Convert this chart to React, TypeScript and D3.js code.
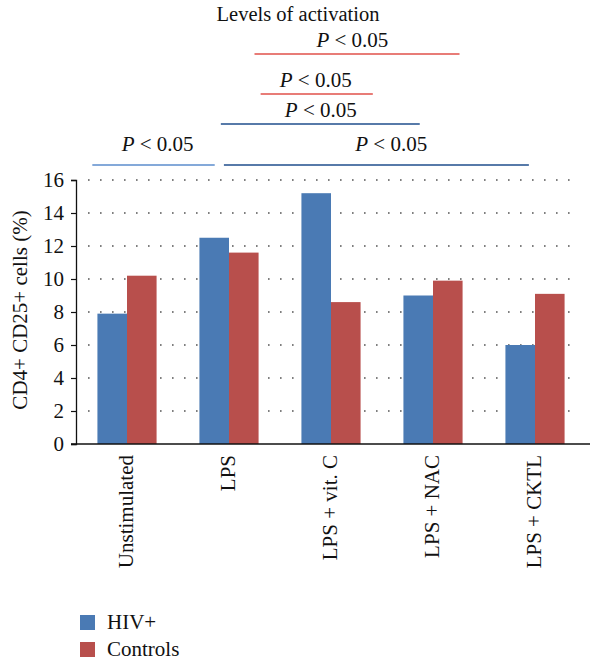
import React, { useEffect, useRef } from 'react';
import * as d3 from 'd3';

const categories = ['Unstimulated', 'LPS', 'LPS + vit. C', 'LPS + NAC', 'LPS + CKTL'];
const seriesNames = ['HIV+', 'Controls'];
const hivValues = [7.9, 12.5, 15.2, 9.0, 6.0];
const controlValues = [10.2, 11.6, 8.6, 9.9, 9.1];
const yTicks = [0, 2, 4, 6, 8, 10, 12, 14, 16];

// significance brackets, in category-index units (0 = first category centre)
const sigFrom = [1.25, 1.31, 0.92, -0.34, 0.95];
const sigTo = [3.26, 2.41, 2.87, 0.86, 3.94];
const sigLabelAt = [2.21, 1.85, 1.90, 0.30, 2.59];
const sigRow = [0, 1, 2, 3, 3];
const sigColor = ['#e0504a', '#e0504a', '#1f4e8c', '#5b8ccc', '#1f4e8c'];

const W = 597;
const H = 661;
const font = '"Liberation Serif", "DejaVu Serif", serif';
const fs = 21;

export default function App() {
  const ref = useRef<SVGSVGElement>(null);

  useEffect(() => {
    if (!ref.current) return;
    const svg = d3.select(ref.current);
    svg.selectAll('*').remove();

    const left = 76, right = 586, top = 180, bottom = 444;

    const x = d3.scaleBand().domain(categories).range([left, right]).paddingInner(0.42).paddingOuter(0.21);
    const xs = d3.scaleBand().domain(seriesNames).range([0, x.bandwidth()]);
    const y = d3.scaleLinear().domain([0, 16]).range([bottom, top]);
    const idx = d3.scaleLinear().domain([0, 1])
      .range([x(categories[0])! + x.bandwidth() / 2, x(categories[1])! + x.bandwidth() / 2]);
    const colors = d3.scaleOrdinal<string, string>().domain(seriesNames).range(['#4a7ab4', '#b84f4c']);

    // title
    svg.append('text').attr('x', 298).attr('y', 21).attr('text-anchor', 'middle')
      .attr('font-family', font).attr('font-size', 20.5).attr('fill', '#111').text('Levels of activation');

    // gridlines
    svg.append('g').selectAll('line').data(yTicks.filter(t => t > 0)).join('line')
      .attr('x1', 88).attr('x2', 572)
      .attr('y1', d => y(d)).attr('y2', d => y(d))
      .attr('stroke', '#555').attr('stroke-width', 1.6)
      .attr('stroke-dasharray', '1.6 10.4');

    // bars
    const data = categories.map((c, i) => ({ c, vals: [hivValues[i], controlValues[i]] }));
    const g = svg.append('g');
    data.forEach(d => {
      d.vals.forEach((v, j) => {
        g.append('rect')
          .attr('x', x(d.c)! + xs(seriesNames[j])!)
          .attr('width', xs.bandwidth())
          .attr('y', y(v))
          .attr('height', y(0) - y(v))
          .attr('fill', colors(seriesNames[j]));
      });
    });

    // y axis
    const yAxis = svg.append('g').attr('transform', `translate(${left},0)`)
      .call(d3.axisLeft(y).tickValues(yTicks).tickSize(5).tickPadding(7));
    yAxis.select('.domain').attr('stroke', '#111').attr('stroke-width', 1.3);
    yAxis.selectAll('.tick line').attr('stroke', '#111').attr('stroke-width', 1.2);
    yAxis.selectAll('.tick text').attr('font-family', font).attr('font-size', fs).attr('fill', '#111');

    // x axis line
    svg.append('line').attr('x1', left - 5).attr('x2', 590).attr('y1', bottom).attr('y2', bottom)
      .attr('stroke', '#111').attr('stroke-width', 1.3);

    // x labels
    svg.append('g').selectAll('text').data(categories).join('text')
      .attr('transform', d => `translate(${x(d)! + x.bandwidth() / 2 + 6},455) rotate(-90)`)
      .attr('text-anchor', 'end')
      .attr('font-family', font).attr('font-size', fs).attr('fill', '#111')
      .text(d => d);

    // y label
    svg.append('text').attr('transform', `translate(27,${(top + bottom) / 2 - 2}) rotate(-90)`)
      .attr('text-anchor', 'middle').attr('font-family', font).attr('font-size', fs).attr('fill', '#111')
      .text('CD4+ CD25+ cells (%)');

    // significance brackets
    const rowLineY = [54, 94, 124, 165];
    const rowTextY = [47, 87, 117, 151];
    sigFrom.forEach((f, i) => {
      svg.append('line')
        .attr('x1', idx(f)).attr('x2', idx(sigTo[i]))
        .attr('y1', rowLineY[sigRow[i]]).attr('y2', rowLineY[sigRow[i]])
        .attr('stroke', sigColor[i]).attr('stroke-width', 1.3);
      const t = svg.append('text').attr('x', idx(sigLabelAt[i])).attr('y', rowTextY[sigRow[i]])
        .attr('text-anchor', 'middle').attr('font-family', font).attr('font-size', fs).attr('fill', '#111');
      t.append('tspan').attr('font-style', 'italic').text('P');
      t.append('tspan').text(' < 0.05');
    });

    // legend
    const lg = svg.append('g');
    seriesNames.forEach((s, i) => {
      lg.append('rect').attr('x', 80).attr('y', 615 + i * 27).attr('width', 15).attr('height', 15)
        .attr('fill', colors(s));
      lg.append('text').attr('x', 107).attr('y', 629 + i * 27)
        .attr('font-family', font).attr('font-size', fs).attr('fill', '#111').text(s);
    });
  }, []);

  return (
    <div style={{ position: 'absolute', left: 0, top: 0, background: '#fff' }}>
      <svg ref={ref} width={W} height={H} style={{ display: 'block' }} />
    </div>
  );
}
